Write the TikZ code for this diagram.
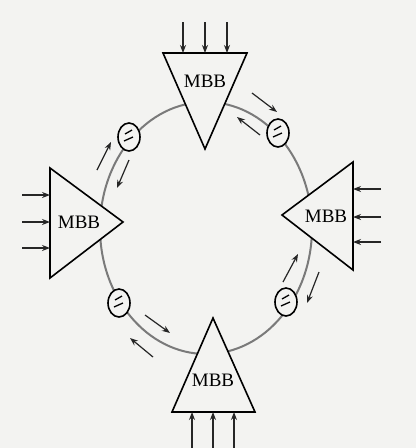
\documentclass[tikz,border=0pt]{standalone}
\usepackage{fontspec}
\setmainfont{Liberation Serif}
\usetikzlibrary{arrows.meta,shapes.geometric}
\definecolor{paper}{HTML}{F3F3F1}
\definecolor{ringc}{HTML}{7A7A7A}
\begin{document}
\begin{tikzpicture}[x=1pt,y=-1pt,
  tri/.style={draw=black,line width=1.6pt,fill=paper,line join=miter},
  ring/.style={draw=ringc,line width=2pt},
  inarrow/.style={draw=black!85,line width=1.3pt,-{Stealth[length=8pt,width=6pt]}},
  flow/.style={draw=black!85,line width=1.2pt,-{Stealth[length=8pt,width=6pt]}},
  valve/.style={ellipse,draw=black,line width=1.6pt,fill=paper,minimum width=22pt,minimum height=28pt,inner sep=0pt},
  lbl/.style={font=\fontsize{19}{21}\selectfont,inner sep=0pt}]
\useasboundingbox[fill=paper] (0,0) rectangle (416,448);
% ring
\draw[ring] (206,228) ellipse [x radius=106, y radius=126];
% triangles
\draw[tri] (163,53) -- (247,53) -- (205,149) -- cycle;
\draw[tri] (50,168) -- (50,278) -- (123,222) -- cycle;
\draw[tri] (353,162) -- (353,270) -- (282,215) -- cycle;
\draw[tri] (172,412) -- (255,412) -- (213,318) -- cycle;
% labels
\node[lbl] (mt) at (205,81) {MBB};
\node[lbl] (ml) at (79,222) {MBB};
\node[lbl] (mr) at (326,216) {MBB};
\node[lbl] (mb) at (213,380) {MBB};
% input arrows
\foreach \x/\n in {183/a,205/b,227/c}{
  \coordinate (ts\n) at (\x,22); \coordinate (te\n) at (\x,53);
  \draw[inarrow] (ts\n) -- (te\n);}
\foreach \x/\n in {192/a,213/b,234/c}{
  \coordinate (bs\n) at (\x,450); \coordinate (be\n) at (\x,412);
  \draw[inarrow] (bs\n) -- (be\n);}
\foreach \y/\n in {195/a,222/b,248/c}{
  \coordinate (ls\n) at (22,\y); \coordinate (le\n) at (50,\y);
  \draw[inarrow] (ls\n) -- (le\n);}
\foreach \y/\n in {189/a,217/b,242/c}{
  \coordinate (rs\n) at (381,\y); \coordinate (re\n) at (353,\y);
  \draw[inarrow] (rs\n) -- (re\n);}
% valves
\foreach \p/\n in {{(129,137)}/v1,{(278,133)}/v2,{(119,303)}/v3,{(286,302)}/v4}{
  \node[valve] (\n) at \p {};
  \draw[line width=1.3pt] ([shift={(-4,-3)}]\n.center) -- ([shift={(3,-7)}]\n.center);
  \draw[line width=1.3pt] ([shift={(-5,4)}]\n.center) -- ([shift={(4,0)}]\n.center);
}
% flow arrows
\coordinate (f1a) at (97,170); \coordinate (f1b) at (111,142);
\coordinate (f2a) at (129,160); \coordinate (f2b) at (117,188);
\coordinate (f3a) at (252,93); \coordinate (f3b) at (277,112);
\coordinate (f4a) at (260,135); \coordinate (f4b) at (237,117);
\coordinate (f5a) at (145,315); \coordinate (f5b) at (170,333);
\coordinate (f6a) at (153,357); \coordinate (f6b) at (130,338);
\coordinate (f7a) at (319,272); \coordinate (f7b) at (307,303);
\coordinate (f8a) at (283,282); \coordinate (f8b) at (298,254);
\foreach \i in {1,...,8}{\draw[flow] (f\i a) -- (f\i b);}
\end{tikzpicture}
\end{document}
